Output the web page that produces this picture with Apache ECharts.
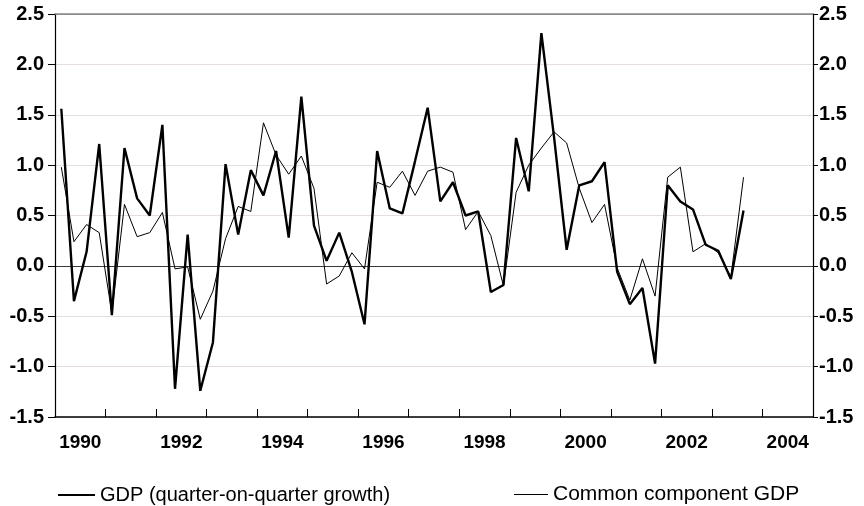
<!DOCTYPE html>
<html>
<head>
<meta charset="utf-8">
<script src="https://cdn.jsdelivr.net/npm/echarts@6/dist/echarts.min.js"></script>
<style>html,body{margin:0;padding:0;background:#fff}#c{width:864px;height:506px}</style>
</head>
<body>
<div id="c"></div>
<script>
const quarters = [
 "1990Q1","1990Q2","1990Q3","1990Q4","1991Q1","1991Q2","1991Q3","1991Q4",
 "1992Q1","1992Q2","1992Q3","1992Q4","1993Q1","1993Q2","1993Q3","1993Q4",
 "1994Q1","1994Q2","1994Q3","1994Q4","1995Q1","1995Q2","1995Q3","1995Q4",
 "1996Q1","1996Q2","1996Q3","1996Q4","1997Q1","1997Q2","1997Q3","1997Q4",
 "1998Q1","1998Q2","1998Q3","1998Q4","1999Q1","1999Q2","1999Q3","1999Q4",
 "2000Q1","2000Q2","2000Q3","2000Q4","2001Q1","2001Q2","2001Q3","2001Q4",
 "2002Q1","2002Q2","2002Q3","2002Q4","2003Q1","2003Q2","2003Q3"];
const gdpGrowth = [
 1.56,-0.35,0.14,1.21,-0.49,1.17,0.67,0.50,
 1.40,-1.22,0.31,-1.24,-0.76,1.01,0.31,0.95,
 0.70,1.14,0.28,1.68,0.40,0.05,0.33,-0.06,
 -0.58,1.14,0.57,0.52,1.04,1.57,0.64,0.83,
 0.50,0.54,-0.26,-0.19,1.27,0.74,2.31,1.28,
 0.16,0.80,0.84,1.03,-0.06,-0.38,-0.22,-0.97,
 0.80,0.64,0.56,0.21,0.15,-0.13,0.55];
const commonComponent = [
 0.98,0.24,0.41,0.33,-0.47,0.61,0.29,0.33,
 0.53,-0.03,-0.01,-0.53,-0.25,0.27,0.59,0.54,
 1.42,1.10,0.91,1.09,0.77,-0.18,-0.10,0.13,
 -0.03,0.83,0.78,0.94,0.70,0.94,0.98,0.93,
 0.36,0.54,0.30,-0.20,0.73,1.00,1.17,1.33,
 1.22,0.77,0.43,0.61,-0.02,-0.34,0.07,-0.30,
 0.88,0.98,0.14,0.22,0.13,-0.11,0.88];
const yTicks = [-1.5,-1.0,-0.5,0.0,0.5,1.0,1.5,2.0,2.5];
const seriesNames = ["GDP (quarter-on-quarter growth)", "Common component GDP"];

function qToYear(q){ const y=+q.slice(0,4), n=+q.slice(5); return y + (n-0.5)/4; }
const xs = quarters.map(qToYear);
const pairs = vals => vals.map((v,i)=>[xs[i], v]);

const FONT = "'Liberation Sans', Arial, sans-serif";
const chart = echarts.init(document.getElementById('c'), null, {renderer:'canvas'});
const gridCol = '#e5dde1';
const splitColors = yTicks.map(v => v===0 ? '#3a3a3a' : (v===2.5 ? '#8a8a8a' : gridCol));

const yCommon = {
  type:'value', min:-1.5, max:2.5, interval:0.5,
  axisLabel:{formatter:v=>v.toFixed(1), fontFamily:FONT, fontWeight:'bold', fontSize:20, color:'#000'},
  axisLine:{show:true, lineStyle:{color:'#000', width:1.2}},
  axisTick:{show:true, inside:false, lineStyle:{color:'#000'}}
};
chart.setOption({
  animation:false,
  grid:{left:55, right:51, top:14, bottom:89, containLabel:false},
  legend:[
    {data:[seriesNames[0]], left:53, top:480, icon:'rect', itemWidth:37, itemHeight:2,
     textStyle:{fontFamily:FONT, fontSize:20, color:'#000'}, itemGap:0},
    {data:[seriesNames[1]], left:509, top:479, icon:'rect', itemWidth:34, itemHeight:1,
     textStyle:{fontFamily:FONT, fontSize:21, color:'#000'}, itemGap:0}
  ],
  xAxis:[
    {type:'value', min:1990, max:2005, interval:1, position:'bottom',
     axisLine:{show:true, onZero:false, lineStyle:{color:'#000', width:1.5}},
     axisTick:{show:true, inside:true, length:8, lineStyle:{color:'#000'}},
     axisLabel:{show:false}, splitLine:{show:false}},
    {type:'value', min:1990, max:2005, interval:0.5, position:'bottom',
     axisLine:{show:false, onZero:false}, axisTick:{show:false}, splitLine:{show:false},
     axisLabel:{margin:16, fontFamily:FONT, fontWeight:'bold', fontSize:19, color:'#000',
       formatter:v=>((Math.round(v*2))%4===1 ? String(Math.floor(v)) : '')}},
    {type:'value', min:1990, max:2005, position:'top',
     axisLine:{show:true, onZero:false, lineStyle:{color:'#8a8a8a', width:1.5}},
     axisTick:{show:false}, axisLabel:{show:false}, splitLine:{show:false}}
  ],
  yAxis:[
    Object.assign({}, yCommon, {position:'left',
      axisTick:{show:true, length:7, lineStyle:{color:'#000'}},
      axisLabel:Object.assign({}, yCommon.axisLabel, {margin:11}),
      splitLine:{show:true, lineStyle:{color:splitColors, width:1}}}),
    Object.assign({}, yCommon, {position:'right',
      axisTick:{show:true, length:5, lineStyle:{color:'#000'}},
      axisLabel:Object.assign({}, yCommon.axisLabel, {margin:6}),
      splitLine:{show:false}})
  ],
  series:[
    {name:seriesNames[0], type:'line', data:pairs(gdpGrowth), showSymbol:false, symbol:'none',
     lineStyle:{color:'#000', width:2.4}, itemStyle:{color:'#000'}, z:3},
    {name:seriesNames[1], type:'line', data:pairs(commonComponent), showSymbol:false, symbol:'none',
     lineStyle:{color:'#000', width:1}, itemStyle:{color:'#000'}, z:2}
  ]
});
</script>
</body>
</html>
